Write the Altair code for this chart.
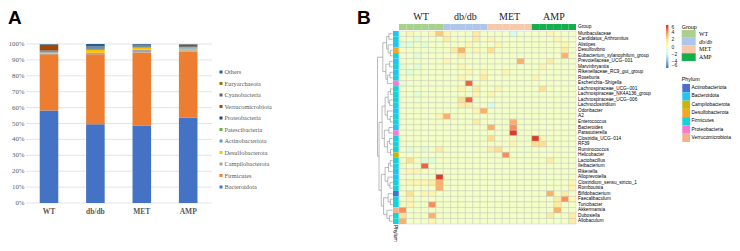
import altair as alt
import pandas as pd

# ---------------- Panel A data ----------------
groups = ["WT", "db/db", "MET", "AMP"]
phyla_a = ["Bacteroidota", "Firmicutes", "Campilobacterota", "Desulfobacterota",
           "Actinobacteriota", "Patescibacteria", "Proteobacteria",
           "Verrucomicrobiota", "Cyanobacteria", "Euryarchaeota", "Others"]
colors_a = ["#4472C4", "#ED7D31", "#A5A5A5", "#FFC000", "#5B9BD5", "#70AD47",
            "#264478", "#9E480E", "#636363", "#997300", "#255E91"]
abund_wt = [58.2, 35.3, 0.6, 0.5, 1.0, 0.1, 0.2, 3.7, 0.05, 0.05, 0.3]
abund_db = [49.5, 44.0, 1.0, 1.8, 0.7, 0.2, 0.5, 0.3, 0.3, 0.1, 1.6]
abund_met = [48.8, 45.9, 1.8, 1.2, 0.6, 0.2, 0.6, 0.1, 0.2, 0.1, 0.5]
abund_amp = [53.7, 41.6, 0.8, 1.0, 0.8, 0.3, 0.4, 0.8, 0.2, 0.2, 0.2]
pct_ticks = [0, 10, 20, 30, 40, 50, 60, 70, 80, 90, 100]
pct_labels = ["0%", "10%", "20%", "30%", "40%", "50%", "60%", "70%", "80%", "90%", "100%"]

# ---------------- Panel B data ----------------
genera = ["Muribaculaceae", "Candidatus_Arthromitus", "Alistipes", "Desulfovibrio",
          "Eubacterium_xylanophilum_group", "Prevotellaceae_UCG\u2212001", "Marvinbryantia",
          "Rikenellaceae_RC9_gut_group", "Roseburia", "Escherichia\u2212Shigella",
          "Lachnospiraceae_UCG\u2212001", "Lachnospiraceae_NK4A136_group",
          "Lachnospiraceae_UCG\u2212006", "Lachnoclostridium", "Odoribacter", "A2",
          "Enterococcus", "Bacteroides", "Parasutterella", "Clostridia_UCG\u2212014", "RF39",
          "Ruminococcus", "Helicobacter", "Lactobacillus", "Ileibacterium", "Rikenella",
          "Alloprevotella", "Clostridium_sensu_stricto_1", "Romboutsia", "Bifidobacterium",
          "Faecalibaculum", "Turicibacter", "Akkermansia", "Dubosiella", "Allobaculum"]
genus_phylum = ["Bacteroidota", "Firmicutes", "Bacteroidota", "Desulfobacterota",
                "Firmicutes", "Bacteroidota", "Firmicutes", "Bacteroidota", "Firmicutes",
                "Proteobacteria", "Firmicutes", "Firmicutes", "Firmicutes", "Firmicutes",
                "Bacteroidota", "Firmicutes", "Firmicutes", "Bacteroidota", "Proteobacteria",
                "Firmicutes", "Firmicutes", "Firmicutes", "Campilobacterota", "Firmicutes",
                "Firmicutes", "Bacteroidota", "Bacteroidota", "Firmicutes", "Firmicutes",
                "Actinobacteriota", "Firmicutes", "Firmicutes", "Verrucomicrobiota",
                "Firmicutes", "Firmicutes"]
phyla_b = ["Actinobacteriota", "Bacteroidota", "Campilobacterota", "Desulfobacterota",
           "Firmicutes", "Proteobacteria", "Verrucomicrobiota"]
colors_b = ["#4A6FCF", "#1EC6F5", "#C8B40A", "#F5A623", "#12D4D8", "#F57AD0", "#F5B088"]
group_colors = ["#A9D18E", "#ADC6E9", "#F7C9AB", "#14AF4B"]
samples_per_group = 6

# z-score codes (WT | db/db | MET | AMP, 6 samples each)
code_values = {".": -0.2, ",": -0.6, "-": -1.2, "=": -2.0, "+": 0.6, "1": 1.2,
               "2": 2.0, "h": 2.6, "3": 3.2, "4": 4.0, "5": 5.0, "6": 5.8}
heat_rows = [
    ".+..+h +...1. ...-.. ..+...",
    "..,... 1...1. +..... ...+..",
    ",,.,.. ...+.. .+.... ....+.",
    "...... .13.+. 2..... ....1.",
    "..,... ..1... ...... ....3.",
    "...... +..... ....3. ..1...",
    ",.,... ..+... ...... .+....",
    ".,.... ...+.+ ..+... ......",
    "...... ..+..1 ...... +.....",
    ",..... ...5.. ...... ......",
    "...... ..+.1. .+.... .2....",
    "..,... ....+. +..... ......",
    "...... ..25.. ...... ......",
    "...... ..11.. -..... ......",
    "...... ....+3 ...... ......",
    ".....+ 3..... ...... ......",
    "...... ....1. ...3.. ......",
    "...... ...... 3..4.. ......",
    "...... ...... ...6.. ......",
    "...... ...... 2..... 6+....",
    "...... ...... ...+.. 22....",
    ".,.,.1 ...... 12.... ......",
    "...... ...... ..4... ......",
    ".2.,,. ...... ...... ..1...",
    "...5.. ...... ...... ......",
    ".++... ...... ...... ......",
    ".....6 ...... ...... ......",
    ".+++13 ...... ...... .....+",
    ".....3 ...... ...... .....+",
    ".2.++. ...... ...... ..3.1.",
    ".+.... ...... ...... ...14+",
    ".+..4. ...... ...... ...1..",
    "4..... ...... ...... ...3..",
    "2...3. ...... ...... ..1..1",
    "3...+. ...... ...... .....1",
]
# row dendrogram: [height, left, right], leaves are row indices
tree = [10,
        [6.5,
         [4, [2.5, 0, 1], [3, 2, [1.5, 3, 4]]],
         [4.5, [2, 5, 6], [3.5, [1.8, 7, 8], 9]]],
        [9,
         [7,
          [5, [3, [1.5, 10, 11], [2, 12, 13]], [3.5, 14, [1.6, 15, 16]]],
          [5.5, [2.5, 17, 18], [3.5, [2, 19, 20], [1.4, 21, 22]]]],
         [7.5,
          [5, [2.8, [1.6, 23, 24], 25], [3.2, 26, [1.8, 27, 28]]],
          [6, [3, 29, [1.5, 30, 31]], [3.8, 32, [2.2, 33, 34]]]]]]
heat_stops = [-6, -4, -2, 0, 2, 4, 6]
heat_colors = ["#4575B4", "#91BFDB", "#E0F3F8", "#FFFFBF", "#FEE090", "#FC8D59", "#D73027"]
legend_ticks = [6, 4, 2, 0, -2, -4, -6]

SERIF = "Liberation Serif"
SANS = "Liberation Sans"
GREY = "#595959"

# ---------------- tables ----------------
abund = [abund_wt, abund_db, abund_met, abund_amp]
bars = pd.DataFrame([
    {"group": g, "phylum": p, "value": abund[gi][pi], "color": colors_a[pi], "rank": pi}
    for gi, g in enumerate(groups) for pi, p in enumerate(phyla_a)])
ticks = pd.DataFrame({"tick": pct_ticks, "label": pct_labels})
leg_a = pd.DataFrame({"phylum": phyla_a[::-1], "color": colors_a[::-1]})
grp_df = pd.DataFrame({"group": groups, "color": group_colors})

samples = [f"{g}_{i + 1}" for g in groups for i in range(samples_per_group)]
sample_group = [g for g in groups for _ in range(samples_per_group)]
heat = []
for r, row in enumerate(heat_rows):
    codes = row.replace(" ", "")
    for c, ch in enumerate(codes):
        heat.append({"sample": samples[c], "genus": genera[r], "value": code_values[ch]})
heat = pd.DataFrame(heat)
gbar = pd.DataFrame({"sample": samples, "row": "Group",
                     "color": [group_colors[groups.index(g)] for g in sample_group]})
phy_col = pd.DataFrame({"genus": genera, "col": "Phylum",
                        "color": [colors_b[phyla_b.index(p)] for p in genus_phylum]})
leg_b = pd.DataFrame({"phylum": phyla_b, "color": colors_b})

segs = []


def walk(node):
    if isinstance(node, int):
        return node + 0.5, 0.0
    h, left, right = node
    yl, hl = walk(left)
    yr, hr = walk(right)
    segs.append({"x": h, "x2": h, "y": yl, "y2": yr})
    segs.append({"x": hl, "x2": h, "y": yl, "y2": yl})
    segs.append({"x": hr, "x2": h, "y": yr, "y2": yr})
    return (yl + yr) / 2, h


walk(tree)
segs = pd.DataFrame(segs)

# ---------------- scales (ranges = layout in px) ----------------
HB = 216  # bottom of heatmap grid
yA = alt.Scale(domain=[0, 100], range=[195, 36], nice=False, zero=False)
xA = alt.Scale(type="band", domain=groups, range=[17.8, 203.4], paddingInner=0.6, paddingOuter=0.3)
legA = alt.Scale(type="point", domain=phyla_a[::-1], range=[64, 179], padding=0)
xH = alt.Scale(type="band", domain=samples, range=[391, 568], paddingInner=0, paddingOuter=0)
yH = alt.Scale(type="band", domain=genera, range=[23, HB], paddingInner=0, paddingOuter=0)
xG = alt.Scale(type="band", domain=groups, range=[391, 568], paddingInner=0, paddingOuter=0)
yGrow = alt.Scale(type="band", domain=["Group"], range=[16, 22])
xP = alt.Scale(type="band", domain=["Phylum"], range=[385, 390.7])
xD = alt.Scale(domain=[0, 10], range=[384.7, 369.5], nice=False, zero=False)
yD = alt.Scale(domain=[0, len(genera)], range=[23, HB], nice=False, zero=False)
yGL = alt.Scale(type="band", domain=groups, range=[22, 53], paddingInner=0, paddingOuter=0)
yPL = alt.Scale(type="band", domain=phyla_b, range=[76, 134], paddingInner=0, paddingOuter=0)

layers = []
# ---- Panel A ----
layers.append(alt.Chart(ticks).mark_rule(color="#D9D9D9", strokeWidth=0.7).encode(
    y=alt.Y("tick:Q", scale=yA, axis=None), x=alt.value(18), x2=alt.value(204)))
layers.append(alt.Chart(ticks).mark_text(align="right", baseline="middle", font=SERIF,
                                          fontSize=6.8, color=GREY).encode(
    y=alt.Y("tick:Q", scale=yA, axis=None), x=alt.value(16.5), text="label:N"))
layers.append(alt.Chart(bars).mark_bar().encode(
    x=alt.X("group:N", scale=xA, axis=None),
    y=alt.Y("value:Q", stack="zero", scale=yA, axis=None),
    color=alt.Color("color:N", scale=None),
    order=alt.Order("rank:Q"),
    detail="phylum:N"))
layers.append(alt.Chart(grp_df).mark_text(baseline="middle", font=SERIF, fontSize=7.5,
                                          fontWeight="bold", color=GREY).encode(
    x=alt.X("group:N", scale=xA, axis=None), y=alt.value(204), text="group:N"))
layers.append(alt.Chart(leg_a).mark_square(size=9, opacity=1).encode(
    y=alt.Y("phylum:N", scale=legA, axis=None), x=alt.value(213),
    color=alt.Color("color:N", scale=None)))
layers.append(alt.Chart(leg_a).mark_text(align="left", baseline="middle", font=SERIF,
                                         fontSize=6.3, color=GREY).encode(
    y=alt.Y("phylum:N", scale=legA, axis=None), x=alt.value(216.5), text="phylum:N"))
layers.append(alt.Chart(pd.DataFrame({"t": ["A"]})).mark_text(
    align="left", baseline="top", font=SANS, fontSize=19, fontWeight="bold", color="black").encode(
    x=alt.value(0), y=alt.value(1), text="t:N"))

# ---- Panel B ----
layers.append(alt.Chart(gbar).mark_rect().encode(
    x=alt.X("sample:N", scale=xH, axis=None), y=alt.Y("row:N", scale=yGrow, axis=None),
    color=alt.Color("color:N", scale=None)))
layers.append(alt.Chart(grp_df).mark_text(baseline="middle", font=SERIF, fontSize=10,
                                          color="#222222").encode(
    x=alt.X("group:N", scale=xG, axis=None), y=alt.value(9), text="group:N"))
layers.append(alt.Chart(heat).mark_rect(stroke="#C4C4B8", strokeWidth=0.45).encode(
    x=alt.X("sample:N", scale=xH, axis=None),
    y=alt.Y("genus:N", scale=yH, axis=None),
    color=alt.Color("value:Q",
                    scale=alt.Scale(type="linear", domain=heat_stops, range=heat_colors),
                    legend=alt.Legend(orient="none", legendX=658, legendY=17, title=None,
                                      direction="vertical", gradientLength=43,
                                      gradientThickness=2.5, gradientStrokeWidth=0,
                                      values=legend_ticks, labelFontSize=5,
                                      labelFont=SANS, labelOffset=3, labelOverlap=False,
                                      padding=0, labelColor="#222222"))))
layers.append(alt.Chart(phy_col).mark_rect().encode(
    x=alt.X("col:N", scale=xP, axis=None), y=alt.Y("genus:N", scale=yH, axis=None),
    color=alt.Color("color:N", scale=None)))
layers.append(alt.Chart(pd.DataFrame({"genus": genera})).mark_text(
    align="left", baseline="middle", font=SANS, fontSize=4.7, color="black").encode(
    y=alt.Y("genus:N", scale=yH, axis=None), x=alt.value(570), text="genus:N"))
layers.append(alt.Chart(pd.DataFrame({"row": ["Group"]})).mark_text(
    align="left", baseline="middle", font=SANS, fontSize=4.8, color="black").encode(
    y=alt.Y("row:N", scale=yGrow, axis=None), x=alt.value(570), text="row:N"))
layers.append(alt.Chart(segs).mark_rule(color="#8C8C8C", strokeWidth=0.6).encode(
    x=alt.X("x:Q", scale=xD, axis=None), x2="x2:Q",
    y=alt.Y("y:Q", scale=yD, axis=None), y2="y2:Q"))
layers.append(alt.Chart(pd.DataFrame({"t": ["Phylum"]})).mark_text(
    align="left", baseline="middle", angle=90, font=SANS, fontSize=5, color="black").encode(
    x=alt.value(388), y=alt.value(217), text="t:N"))
# group legend
layers.append(alt.Chart(grp_df).mark_rect().encode(
    y=alt.Y("group:N", scale=yGL, axis=None), x=alt.value(673.7), x2=alt.value(687.7),
    color=alt.Color("color:N", scale=None)))
layers.append(alt.Chart(grp_df).mark_text(align="left", baseline="middle", font=SERIF,
                                          fontSize=5.8, color="black").encode(
    y=alt.Y("group:N", scale=yGL, axis=None), x=alt.value(691), text="group:N"))
layers.append(alt.Chart(pd.DataFrame({"t": ["Group"]})).mark_text(
    align="left", baseline="middle", font=SANS, fontSize=5.4, color="black").encode(
    x=alt.value(673.7), y=alt.value(18.5), text="t:N"))
# phylum legend
layers.append(alt.Chart(leg_b).mark_rect().encode(
    y=alt.Y("phylum:N", scale=yPL, axis=None), x=alt.value(674.3), x2=alt.value(682),
    color=alt.Color("color:N", scale=None)))
layers.append(alt.Chart(leg_b).mark_text(align="left", baseline="middle", font=SANS,
                                         fontSize=4.9, color="black").encode(
    y=alt.Y("phylum:N", scale=yPL, axis=None), x=alt.value(683.5), text="phylum:N"))
layers.append(alt.Chart(pd.DataFrame({"t": ["Phylum"]})).mark_text(
    align="left", baseline="middle", font=SANS, fontSize=5.4, color="black").encode(
    x=alt.value(673.7), y=alt.value(71), text="t:N"))
layers.append(alt.Chart(pd.DataFrame({"t": ["B"]})).mark_text(
    align="left", baseline="top", font=SANS, fontSize=19, fontWeight="bold", color="black").encode(
    x=alt.value(349), y=alt.value(1), text="t:N"))

chart = alt.layer(*layers).resolve_scale(
    x="independent", y="independent", color="independent"
).resolve_legend(color="independent").properties(
    width=724, height=235, padding=0,
    autosize=alt.AutoSizeParams(type="none"),
).configure_view(stroke=None)

chart.save("out.html", embed_options={"renderer": "svg", "actions": False})
